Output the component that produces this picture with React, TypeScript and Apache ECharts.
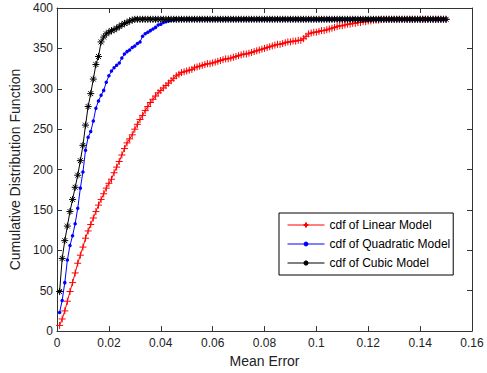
import React, { useEffect, useRef } from "react";
import * as echarts from "echarts";

const xValues = [
  0.001, 0.002, 0.003, 0.004, 0.005, 0.006, 0.007, 0.008, 0.009, 0.01,
  0.011, 0.012, 0.013, 0.014, 0.015, 0.016, 0.017, 0.018, 0.019, 0.02,
  0.021, 0.022, 0.023, 0.024, 0.025, 0.026, 0.027, 0.028, 0.029, 0.03,
  0.031, 0.032, 0.033, 0.034, 0.035, 0.036, 0.037, 0.038, 0.039, 0.04,
  0.041, 0.042, 0.043, 0.044, 0.045, 0.046, 0.047, 0.048, 0.049, 0.05,
  0.051, 0.052, 0.053, 0.054, 0.055, 0.056, 0.057, 0.058, 0.059, 0.06,
  0.061, 0.062, 0.063, 0.064, 0.065, 0.066, 0.067, 0.068, 0.069, 0.07,
  0.071, 0.072, 0.073, 0.074, 0.075, 0.076, 0.077, 0.078, 0.079, 0.08,
  0.081, 0.082, 0.083, 0.084, 0.085, 0.086, 0.087, 0.088, 0.089, 0.09,
  0.091, 0.092, 0.093, 0.094, 0.095, 0.096, 0.097, 0.098, 0.099, 0.1,
  0.101, 0.102, 0.103, 0.104, 0.105, 0.106, 0.107, 0.108, 0.109, 0.11,
  0.111, 0.112, 0.113, 0.114, 0.115, 0.116, 0.117, 0.118, 0.119, 0.12,
  0.121, 0.122, 0.123, 0.124, 0.125, 0.126, 0.127, 0.128, 0.129, 0.13,
  0.131, 0.132, 0.133, 0.134, 0.135, 0.136, 0.137, 0.138, 0.139, 0.14,
  0.141, 0.142, 0.143, 0.144, 0.145, 0.146, 0.147, 0.148, 0.149, 0.15,
];

const linearCdf = [
  7, 15, 25, 37, 49, 60, 72, 84, 94, 104,
  115, 124, 132, 140, 148, 156, 163, 170, 177, 183,
  188, 196, 203, 210, 218, 226, 233, 238, 243, 250,
  256, 262, 267, 273, 278, 283, 287, 291, 295, 298,
  301, 304, 307, 310, 313, 316, 318, 320, 321, 322,
  323, 324, 326, 327, 328, 329, 330, 331, 331, 332,
  333, 334, 335, 336, 337, 337, 338, 339, 340, 341,
  342, 343, 343, 344, 345, 346, 347, 348, 349, 350,
  351, 352, 353, 354, 355, 355, 356, 357, 358, 358,
  359, 359, 360, 360, 362, 365, 368, 369, 370, 370,
  371, 372, 372, 373, 374, 375, 376, 377, 378, 378,
  379, 380, 380, 381, 381, 382, 382, 383, 383, 384,
  384, 385, 385, 385, 386, 386, 386, 386, 386, 386,
  386, 386, 386, 386, 386, 386, 386, 386, 386, 386,
  386, 386, 386, 386, 386, 386, 386, 386, 386, 386,
];

const quadraticCdf = [
  23, 38, 60, 88, 106, 118, 133, 152, 177, 197,
  224, 240, 247, 260, 276, 285, 292, 298, 308, 316,
  322, 326, 329, 332, 338, 343, 346, 348, 351, 353,
  356, 358, 365, 368, 370, 372, 374, 376, 379, 380,
  382, 383, 384, 385, 385, 386, 386, 386, 386, 386,
  386, 386, 386, 386, 386, 386, 386, 386, 386, 386,
  386, 386, 386, 386, 386, 386, 386, 386, 386, 386,
  386, 386, 386, 386, 386, 386, 386, 386, 386, 386,
  386, 386, 386, 386, 386, 386, 386, 386, 386, 386,
  386, 386, 386, 386, 386, 386, 386, 386, 386, 386,
  386, 386, 386, 386, 386, 386, 386, 386, 386, 386,
  386, 386, 386, 386, 386, 386, 386, 386, 386, 386,
  386, 386, 386, 386, 386, 386, 386, 386, 386, 386,
  386, 386, 386, 386, 386, 386, 386, 386, 386, 386,
  386, 386, 386, 386, 386, 386, 386, 386, 386, 386,
];

const cubicCdf = [
  49, 90, 112, 130, 148, 163, 178, 193, 211, 230,
  255, 278, 294, 312, 330, 340, 358, 364, 368, 370,
  372, 373, 375, 377, 379, 381, 382, 384, 385, 386,
  386, 386, 386, 386, 386, 386, 386, 386, 386, 386,
  386, 386, 386, 386, 386, 386, 386, 386, 386, 386,
  386, 386, 386, 386, 386, 386, 386, 386, 386, 386,
  386, 386, 386, 386, 386, 386, 386, 386, 386, 386,
  386, 386, 386, 386, 386, 386, 386, 386, 386, 386,
  386, 386, 386, 386, 386, 386, 386, 386, 386, 386,
  386, 386, 386, 386, 386, 386, 386, 386, 386, 386,
  386, 386, 386, 386, 386, 386, 386, 386, 386, 386,
  386, 386, 386, 386, 386, 386, 386, 386, 386, 386,
  386, 386, 386, 386, 386, 386, 386, 386, 386, 386,
  386, 386, 386, 386, 386, 386, 386, 386, 386, 386,
  386, 386, 386, 386, 386, 386, 386, 386, 386, 386,
];

const seriesNames = ["cdf of Linear Model", "cdf of Quadratic Model", "cdf of Cubic Model"];

const FONT = "'Liberation Sans', Arial, sans-serif";
const PLUS = "path://M5,0L5,10M0,5L10,5";
const STAR = "path://M5,0L5,10M0,5L10,5M1.5,1.5L8.5,8.5M8.5,1.5L1.5,8.5";

export default function App() {
  const ref = useRef<HTMLDivElement>(null);
  useEffect(() => {
    if (!ref.current) return;
    const chart = echarts.init(ref.current, undefined, { renderer: "svg" });
    const axisColor = "#333";
    const labelStyle = { color: "#222", fontSize: 12, fontFamily: FONT };
    const toPairs = (ys: number[]) => xValues.map((x, i) => [x, ys[i]]);
    chart.setOption({
      animation: false,
      backgroundColor: "#fff",
      grid: { left: 57, right: 15, top: 8, bottom: 40 },
      legend: {
        orient: "vertical",
        left: 279,
        top: 213,
        backgroundColor: "#fff",
        borderColor: "#000",
        borderWidth: 1,
        borderRadius: 0,
        padding: [6, 3, 6, 8],
        itemWidth: 37,
        itemHeight: 6,
        itemGap: 7,
        lineStyle: { width: 1 },
        textStyle: { color: "#000", fontSize: 12, fontFamily: FONT },
        data: seriesNames,
      },
      xAxis: [
        {
          type: "value",
          min: 0,
          max: 0.16,
          interval: 0.02,
          position: "bottom",
          name: "Mean Error",
          nameLocation: "middle",
          nameGap: 22,
          nameTextStyle: { color: "#222", fontSize: 14, fontFamily: FONT },
          axisLine: { show: true, onZero: false, lineStyle: { color: axisColor } },
          axisTick: { show: true, inside: true, length: 5, lineStyle: { color: axisColor } },
          axisLabel: { ...labelStyle, margin: 6 },
          splitLine: { show: false },
        },
        {
          type: "value",
          min: 0,
          max: 0.16,
          interval: 0.02,
          position: "top",
          axisLine: { show: true, onZero: false, lineStyle: { color: axisColor } },
          axisTick: { show: true, inside: true, length: 5, lineStyle: { color: axisColor } },
          axisLabel: { show: false },
          splitLine: { show: false },
        },
      ],
      yAxis: [
        {
          type: "value",
          min: 0,
          max: 400,
          interval: 50,
          position: "left",
          name: "Cumulative Distribution Function",
          nameLocation: "middle",
          nameGap: 30,
          nameTextStyle: { color: "#222", fontSize: 14, fontFamily: FONT },
          axisLine: { show: true, onZero: false, lineStyle: { color: axisColor } },
          axisTick: { show: true, inside: true, length: 5, lineStyle: { color: axisColor } },
          axisLabel: { ...labelStyle, margin: 4 },
          splitLine: { show: false },
        },
        {
          type: "value",
          min: 0,
          max: 400,
          interval: 50,
          position: "right",
          axisLine: { show: true, onZero: false, lineStyle: { color: axisColor } },
          axisTick: { show: true, inside: true, length: 5, lineStyle: { color: axisColor } },
          axisLabel: { show: false },
          splitLine: { show: false },
        },
      ],
      series: [
        {
          name: seriesNames[0],
          type: "line",
          data: toPairs(linearCdf),
          symbol: PLUS,
          symbolSize: 7,
          showSymbol: true,
          showAllSymbol: true,
          lineStyle: { color: "#ff0000", width: 1 },
          itemStyle: { color: "#ff0000", borderColor: "#ff0000", borderWidth: 1 },
        },
        {
          name: seriesNames[1],
          type: "line",
          data: toPairs(quadraticCdf),
          symbol: "circle",
          symbolSize: 3.5,
          showSymbol: true,
          showAllSymbol: true,
          lineStyle: { color: "#0000ff", width: 1 },
          itemStyle: { color: "#0000ff", borderColor: "#0000ff", borderWidth: 0 },
        },
        {
          name: seriesNames[2],
          type: "line",
          data: toPairs(cubicCdf),
          symbol: STAR,
          symbolSize: 7,
          showSymbol: true,
          showAllSymbol: true,
          lineStyle: { color: "#000", width: 1 },
          itemStyle: { color: "#000", borderColor: "#000", borderWidth: 1 },
        },
      ],
    });
    return () => chart.dispose();
  }, []);
  return <div ref={ref} style={{ width: 487, height: 373, position: "absolute", left: 0, top: 0 }} />;
}
